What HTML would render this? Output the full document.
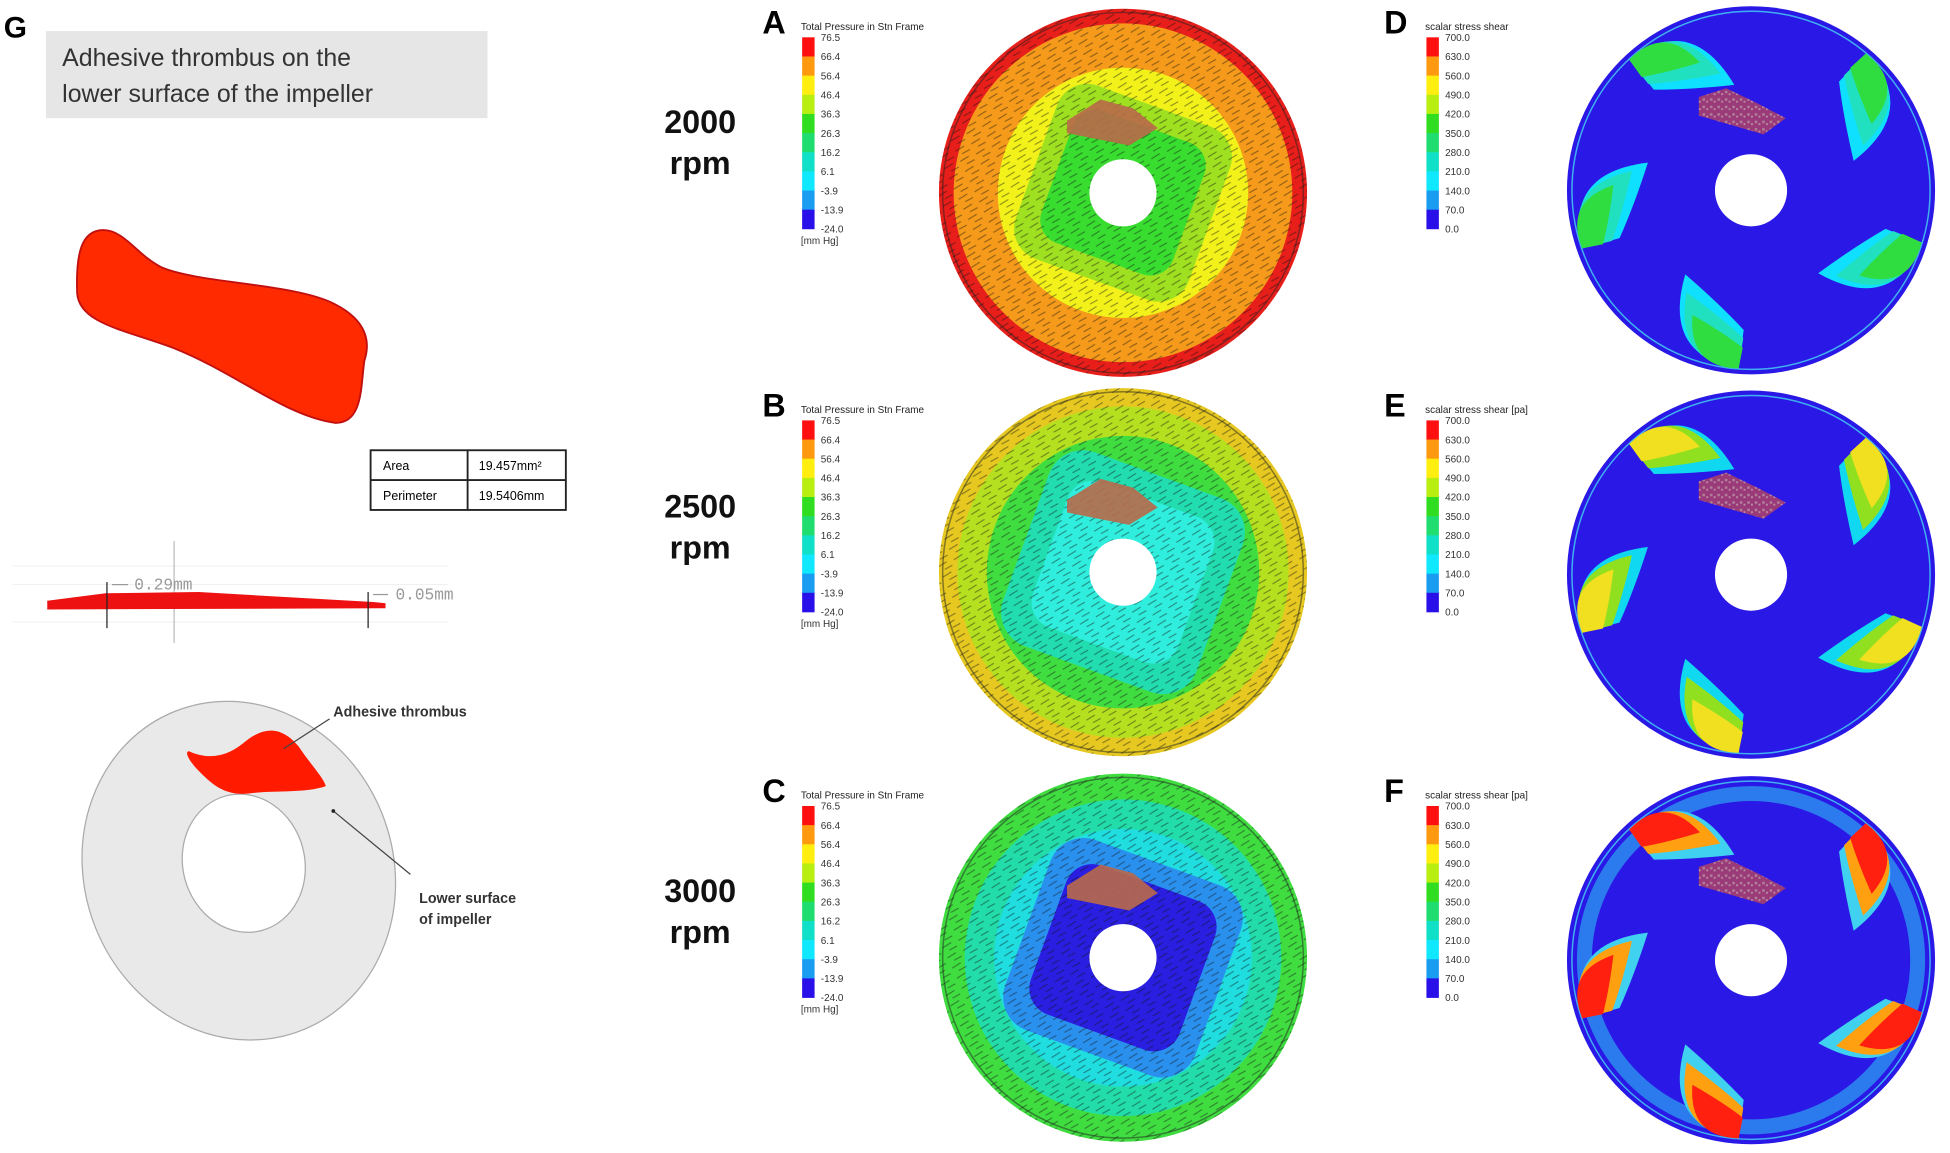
<!DOCTYPE html>
<html><head><meta charset="utf-8">
<style>
html,body{margin:0;padding:0;background:#fff;}
svg{display:block;font-family:"Liberation Sans",sans-serif;}
</style></head>
<body>
<svg id="fig" width="1950" height="1153" viewBox="0 0 1568 927" preserveAspectRatio="none" xmlns="http://www.w3.org/2000/svg">
<defs>
<pattern id="arrows" width="14" height="9" patternUnits="userSpaceOnUse" patternTransform="rotate(-25)">
<path d="M1,3 L9,2 M5,7 L12,6.5" stroke="#111" stroke-width="0.9" opacity="0.45"/>
</pattern>
<pattern id="speck" width="6" height="6" patternUnits="userSpaceOnUse">
<rect x="1" y="1" width="2" height="2" fill="#b9a0a8"/><rect x="4" y="3" width="1.5" height="1.5" fill="#c7b3b8"/>
</pattern>
</defs>

<g>
<text x="3" y="30" font-size="24" font-weight="bold">G</text>
<rect x="37" y="25" width="355" height="70" fill="#e6e6e6"/>
<text x="50" y="53" font-size="20" fill="#333">Adhesive thrombus on the</text>
<text x="50" y="82" font-size="20" fill="#333">lower surface of the impeller</text>
<path d="M83,185 C100,185 110,205 130,215 C160,228 240,228 270,245 C295,258 298,275 293,290 C290,310 292,340 270,340 C230,335 190,300 140,280 C100,265 63,260 62,235 C61,205 65,185 83,185 Z" fill="#ff2a00" stroke="#c01010" stroke-width="1.5"/>
<g>
<rect x="298" y="362" width="157" height="48" fill="#fff" stroke="#222" stroke-width="1.5"/>
<line x1="298" y1="386" x2="455" y2="386" stroke="#222" stroke-width="1.5"/>
<line x1="376" y1="362" x2="376" y2="410" stroke="#222" stroke-width="1.5"/>
<text x="308" y="378" font-size="10">Area</text>
<text x="385" y="378" font-size="10">19.457mm²</text>
<text x="308" y="402" font-size="10">Perimeter</text>
<text x="385" y="402" font-size="10">19.5406mm</text>
</g>
<g>
<g stroke="#eee" stroke-width="0.7">
<line x1="10" y1="455" x2="360" y2="455"/><line x1="10" y1="470" x2="360" y2="470"/><line x1="10" y1="500" x2="360" y2="500"/>
</g>
<line x1="140" y1="435" x2="140" y2="517" stroke="#bbb" stroke-width="1"/>
<path d="M38,483 L85,477 L160,476 L300,484 L310,485 L310,489 L38,490 Z" fill="#ee1111"/>
<line x1="86" y1="468" x2="86" y2="505" stroke="#222" stroke-width="1"/>
<line x1="296" y1="476" x2="296" y2="505" stroke="#222" stroke-width="1"/>
<line x1="90" y1="470" x2="103" y2="470" stroke="#999"/>
<line x1="300" y1="478" x2="312" y2="478" stroke="#999"/>
<text x="108" y="474" font-size="13" fill="#999" font-family="Liberation Mono,monospace">0.29mm</text>
<text x="318" y="482" font-size="13" fill="#999" font-family="Liberation Mono,monospace">0.05mm</text>
</g>
<g>
<ellipse cx="192" cy="700" rx="124" ry="138" transform="rotate(-22 192 700)" fill="#e9e9e9" stroke="#aaa" stroke-width="1"/>
<ellipse cx="196" cy="694" rx="49" ry="56" transform="rotate(-15 196 694)" fill="#fff" stroke="#aaa" stroke-width="1"/>
<path d="M152,604 C165,610 180,610 195,598 C210,585 225,582 240,600 C250,615 260,625 262,632 C245,638 220,635 200,638 C180,640 170,630 160,620 C152,612 148,604 152,604 Z" fill="#ff1a00"/>
<line x1="228" y1="602" x2="265" y2="578" stroke="#444" stroke-width="1"/>
<line x1="268" y1="652" x2="330" y2="703" stroke="#444" stroke-width="1"/>
<circle cx="268" cy="652" r="1.5" fill="#222"/>
<text x="268" y="576" font-size="11.5" font-weight="bold" fill="#333">Adhesive thrombus</text>
<text x="337" y="726" font-size="11.5" font-weight="bold" fill="#333">Lower surface</text>
<text x="337" y="743" font-size="11.5" font-weight="bold" fill="#333">of impeller</text>
</g>
</g>

<g font-size="26" font-weight="bold" text-anchor="middle" fill="#111">
<text x="563" y="107">2000</text>
<text x="563" y="140">rpm</text>
<text x="563" y="416">2500</text>
<text x="563" y="449">rpm</text>
<text x="563" y="725">3000</text>
<text x="563" y="758">rpm</text>
</g>
<g id="panels"></g>
</svg>
<script>
const pressureTicks = ["76.5","66.4","56.4","46.4","36.3","26.3","16.2","6.1","-3.9","-13.9","-24.0"];
const shearTicks = ["700.0","630.0","560.0","490.0","420.0","350.0","280.0","210.0","140.0","70.0","0.0"];
const legendColors = ["#ff1010","#ff9a10","#ffee10","#b8ee10","#30dd20","#20dd70","#10e0c8","#10e8ff","#1a9cf0","#2a10e8"];
const panelLetters = ["A","B","C","D","E","F"];
const panelTopY = [30, 338, 648];
const pressureTitles = ["Total Pressure in Stn Frame","Total Pressure in Stn Frame","Total Pressure in Stn Frame"];
const shearTitles = ["scalar stress shear","scalar stress shear [pa]","scalar stress shear [pa]"];
const ringsA = [[1.0,"#e81e1a"],[0.92,"#f59a1a"],[0.68,"#f2f21a"],[0.5,"#9fe020"],[0.38,"#38dd30"]];
const ringsB = [[1.0,"#e6c820"],[0.9,"#b5e020"],[0.74,"#40dd40"],[0.56,"#22ddb0"],[0.42,"#30eedd"]];
const ringsC = [[1.0,"#40dd40"],[0.86,"#22ddaa"],[0.7,"#20dde0"],[0.55,"#2a90ee"],[0.43,"#2a1ee0"]];
const bladeAngles = [229, 312, 19, 96, 163];
const bladeCore = ["#30dd40","#f0e020","#ff2010"];
const bladeMid = ["#20e0c0","#90e020","#ffa010"];
const bladeHalo = ["#10e0ff","#10d8f0","#40d0f0"];

const NS = "http://www.w3.org/2000/svg";
const root = document.getElementById("panels");
function mk(tag, attrs, parent){ const e=document.createElementNS(NS,tag); for(const k in attrs) e.setAttribute(k,attrs[k]); (parent||root).appendChild(e); return e; }

function legend(x, top, title, ticks, idx, kind){
  const g = mk("g",{});
  
  
  const t = mk("text",{x:x-1,y:top-6,"font-size":8,fill:"#222"},g); t.textContent = title;
  const h = 154/legendColors.length;
  legendColors.forEach((c,i)=>{
    const r = mk("rect",{x:x,y:top+i*h,width:10,height:h+0.3,fill:c},g);
    
    
  });
  ticks.forEach((v,i)=>{
    const tt = mk("text",{x:x+15,y:top+i*h+3,"font-size":8,fill:"#333"},g); tt.textContent = v;
    
    
  });
  if(kind==="pressure"){ const u=mk("text",{x:x-1,y:top+166,"font-size":8,fill:"#333"},g); u.textContent="[mm Hg]"; }
}

function pressureDisk(cx, cy, R, rings){
  const g = mk("g",{});
  
  
  rings.forEach((r,i)=>{
    const rr = R*r[0];
    if(i>=3){ mk("rect",{x:cx-rr,y:cy-rr,width:2*rr,height:2*rr,rx:rr*0.35,fill:r[1],transform:`rotate(20 ${cx} ${cy})`},g); }
    else mk("circle",{cx:cx,cy:cy,r:rr,fill:r[1]},g);
  });
  mk("circle",{cx:cx,cy:cy,r:R,fill:"url(#arrows)"},g);
  mk("circle",{cx:cx,cy:cy,r:R-3,fill:"none",stroke:"#222","stroke-width":1.2,opacity:0.5},g);
  const th = mk("path",{d:`M${cx-45},${cy-58} L${cx-18},${cy-75} L${cx+8},${cy-68} L${cx+28},${cy-52} L${cx+5},${cy-38} L${cx-45},${cy-48} Z`,fill:"#b9694a",opacity:0.9},g);
  
  
  mk("circle",{cx:cx,cy:cy,r:27,fill:"#fff"},g);
}

function blade(g, cx, cy, R, a, fill, s){
  const rad = d=>d*Math.PI/180;
  const pt=(r,d)=>[cx+r*Math.cos(rad(d)),cy+r*Math.sin(rad(d))];
  const span=32*s;
  const p1=pt(R*0.97,a-2);
  const cOut=pt(R*1.02,a+span*0.7);
  const p3=pt(R*(1-0.42*s),a+span);
  const cIn=pt(R*(1-0.36*s),a+span*0.3);
  const p4=pt(R*(1-0.24*s),a-3);
  const p = mk("path",{d:`M${p1} Q${cOut} ${p3} Q${cIn} ${p4} Z`,fill:fill},g);
  
  
}

function shearDisk(cx, cy, R, lvl){
  const g = mk("g",{});
  
  
  mk("circle",{cx:cx,cy:cy,r:R,fill:"#2a18e6"},g);
  if(lvl===2){ mk("circle",{cx:cx,cy:cy,r:R-14,fill:"none",stroke:"#2e9cf0","stroke-width":12,opacity:0.75},g); }
  mk("circle",{cx:cx,cy:cy,r:R-4,fill:"none",stroke:"#40b0f0","stroke-width":1.2},g);
  bladeAngles.forEach(a=>{
    blade(g,cx,cy,R,a,bladeHalo[lvl],1.0);
    blade(g,cx,cy,R,a,bladeMid[lvl],0.82);
    blade(g,cx,cy,R,a,bladeCore[lvl],0.6);
  });
  const tp = `M${cx-42},${cy-75} L${cx-20},${cy-82} L${cx+5},${cy-70} L${cx+28},${cy-58} L${cx+10},${cy-45} L${cx-42},${cy-60} Z`;
  mk("path",{d:tp,fill:"#9a3a78"},g);
  mk("path",{d:tp,fill:"url(#speck)",opacity:0.7},g);
  mk("circle",{cx:cx,cy:cy,r:29,fill:"#fff"},g);
}

const pressCenters=[[903,155],[903,460],[903,770]];
const shearCenters=[[1408,153],[1408,462],[1408,772]];
const ringSets=[ringsA,ringsB,ringsC];
for(let i=0;i<3;i++){
  const top=panelTopY[i];
  const l1=mk("text",{x:613,y:top-3,"font-size":26,"font-weight":"bold"}); l1.textContent=panelLetters[i];
  
  
  const l2=mk("text",{x:1113,y:top-3,"font-size":26,"font-weight":"bold"}); l2.textContent=panelLetters[i+3];
  
  
  legend(645, top, pressureTitles[i], pressureTicks, i, "pressure");
  legend(1147, top, shearTitles[i], shearTicks, i, "shear");
  pressureDisk(pressCenters[i][0], pressCenters[i][1], 148, ringSets[i]);
  shearDisk(shearCenters[i][0], shearCenters[i][1], 148, i);
}
</script>
</body></html>
